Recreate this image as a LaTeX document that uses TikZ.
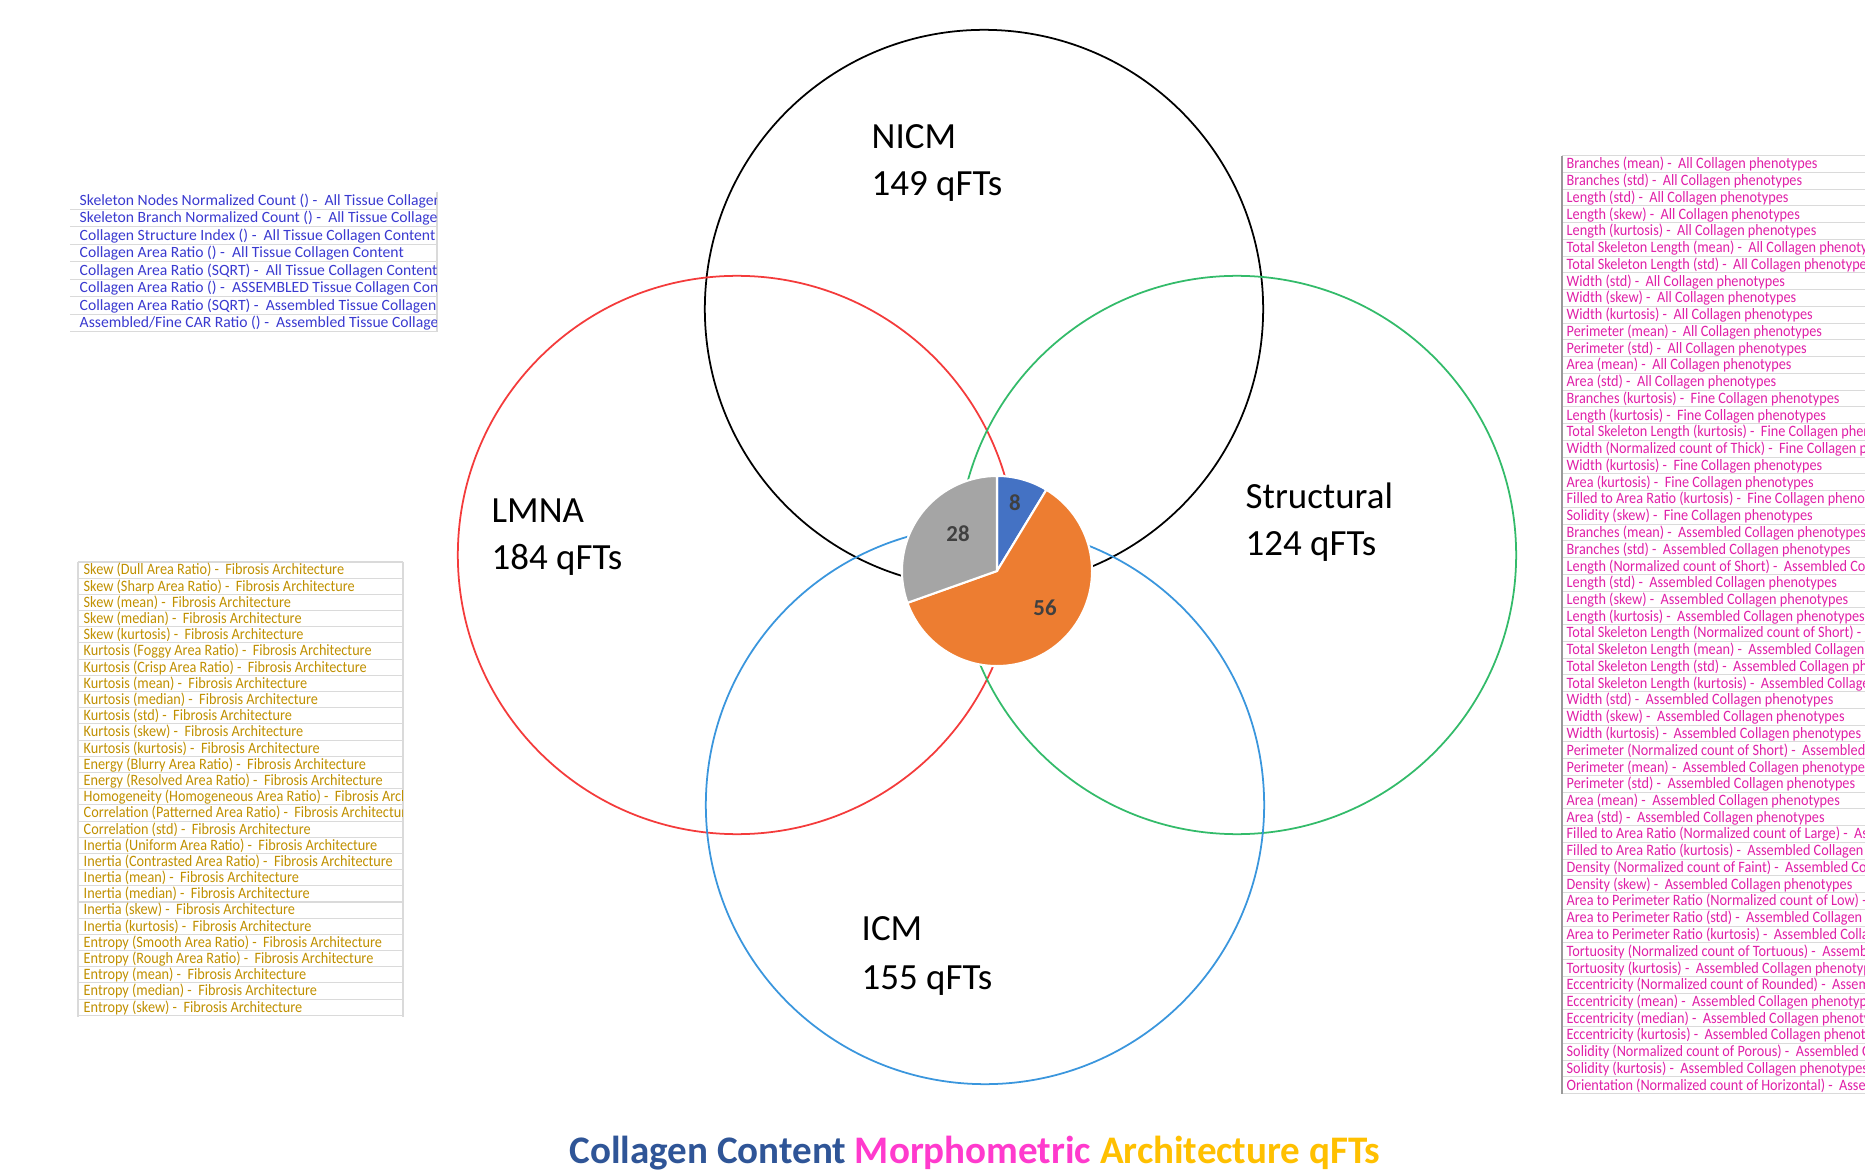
\documentclass[tikz,border=0pt]{standalone}
\usepackage{fontspec}
\setmainfont{Carlito}
\newfontfamily\listfont[FakeStretch=0.9]{Carlito}
\definecolor{cred}{HTML}{F43B3B}
\definecolor{cgreen}{HTML}{33BB6A}
\definecolor{cblue}{HTML}{3A96DD}
\definecolor{pieblue}{HTML}{4472C4}
\definecolor{pieorange}{HTML}{ED7D31}
\definecolor{piegray}{HTML}{A5A5A5}
\definecolor{listblue}{HTML}{3A3AD0}
\definecolor{listgold}{HTML}{C09000}
\definecolor{listpink}{HTML}{E020A8}
\definecolor{titleblue}{HTML}{2F5597}
\definecolor{titlepink}{HTML}{FF3ACD}
\definecolor{titlegold}{HTML}{FFC000}
\definecolor{grid}{HTML}{DADADA}
\tikzset{
  venn/.style={circle, draw, line width=0.5pt, inner sep=0pt, minimum size=5.58cm},
  vennlabel/.style={anchor=base west, inner sep=0pt, font=\fontsize{10.5}{12}\selectfont},
  pielabel/.style={inner sep=0pt, text=black!75, font=\fontsize{6.5}{8}\selectfont\bfseries},
  bluetext/.style={anchor=base west, inner sep=0pt, text=listblue, font=\fontsize{4.45}{5}\selectfont},
  goldtext/.style={anchor=base west, inner sep=0pt, text=listgold, font=\listfont\fontsize{4.5}{5}\selectfont},
  pinktext/.style={anchor=base west, inner sep=0pt, text=listpink, font=\listfont\fontsize{4.5}{5}\selectfont},
  gridline/.style={draw=grid, line width=0.3pt},
  slice/.style={draw=white, line width=0.6pt}
}
\begin{document}
\begin{tikzpicture}[x=0.01cm,y=-0.01cm]
\useasboundingbox (0,0) rectangle (1865,1170);
\fill[white] (0,0) rectangle (1865,1170);

% Venn circles
\node[venn, draw=black] (nicm) at (984,309) {};
\node[venn, draw=cred] (lmna) at (737,555) {};
\node[venn, draw=cgreen] (struct) at (1237,555) {};
\node[venn, draw=cblue] (icm) at (985,805) {};

% Venn labels
\node[vennlabel] (nicmA) at (871,149) {NICM};
\node[vennlabel] (nicmB) at (871,196) {149 qFTs};
\node[vennlabel] (lmnaA) at (491,523) {LMNA};
\node[vennlabel] (lmnaB) at (491,570) {184 qFTs};
\node[vennlabel] (structA) at (1245,509) {Structural};
\node[vennlabel] (structB) at (1245,556) {124 qFTs};
\node[vennlabel] (icmA) at (861,941) {ICM};
\node[vennlabel] (icmB) at (861,989) {155 qFTs};

% Pie chart
\coordinate (pc) at (997,571);
\filldraw[slice, fill=pieblue] (pc) -- ++(90:0.95cm) arc[start angle=90, end angle=58.70, radius=0.95cm] -- cycle;
\filldraw[slice, fill=pieorange] (pc) -- ++(58.70:0.95cm) arc[start angle=58.70, end angle=-160.43, radius=0.95cm] -- cycle;
\filldraw[slice, fill=piegray] (pc) -- ++(199.57:0.95cm) arc[start angle=199.57, end angle=90, radius=0.95cm] -- cycle;
\node[pielabel] (p8) at (1015,503) {8};
\node[pielabel] (p28) at (958,534) {28};
\node[pielabel] (p56) at (1045,608) {56};

% Blue list
\foreach \k in {1,...,8} \draw[gridline] (70,{191.8+17.5*\k}) -- (437,{191.8+17.5*\k});
\draw[gridline] (437,191.8) -- (437,332);
\begin{scope}
\clip (70,185) rectangle (436,335);
\foreach \t [count=\i] in {
Skeleton Nodes Normalized Count () -\ \ All Tissue Collagen Content,
Skeleton Branch Normalized Count () -\ \ All Tissue Collagen Content,
Collagen Structure Index () -\ \ All Tissue Collagen Content,
Collagen Area Ratio () -\ \ All Tissue Collagen Content,
Collagen Area Ratio (SQRT) -\ \ All Tissue Collagen Content,
Collagen Area Ratio () -\ \ ASSEMBLED Tissue Collagen Content,
Collagen Area Ratio (SQRT) -\ \ Assembled Tissue Collagen Content,
Assembled/Fine CAR Ratio () -\ \ Assembled Tissue Collagen Content}
  \node[bluetext] (b\i) at (79,{205.5+17.5*(\i-1)}) {\t};
\end{scope}

% Gold list
\foreach \k in {0,...,28} \draw[gridline] (78,{562+16.19*\k}) -- (403,{562+16.19*\k});
\draw[gridline] (78,562) -- (78,1017);
\draw[gridline] (403,562) -- (403,1017);
\begin{scope}
\clip (78,560) rectangle (402,1020);
\foreach \t [count=\i] in {
Skew (Dull Area Ratio) -\ \ Fibrosis Architecture,
Skew (Sharp Area Ratio) -\ \ Fibrosis Architecture,
Skew (mean) -\ \ Fibrosis Architecture,
Skew (median) -\ \ Fibrosis Architecture,
Skew (kurtosis) -\ \ Fibrosis Architecture,
Kurtosis (Foggy Area Ratio) -\ \ Fibrosis Architecture,
Kurtosis (Crisp Area Ratio) -\ \ Fibrosis Architecture,
Kurtosis (mean) -\ \ Fibrosis Architecture,
Kurtosis (median) -\ \ Fibrosis Architecture,
Kurtosis (std) -\ \ Fibrosis Architecture,
Kurtosis (skew) -\ \ Fibrosis Architecture,
Kurtosis (kurtosis) -\ \ Fibrosis Architecture,
Energy (Blurry Area Ratio) -\ \ Fibrosis Architecture,
Energy (Resolved Area Ratio) -\ \ Fibrosis Architecture,
Homogeneity (Homogeneous Area Ratio) -\ \ Fibrosis Architecture,
Correlation (Patterned Area Ratio) -\ \ Fibrosis Architecture,
Correlation (std) -\ \ Fibrosis Architecture,
Inertia (Uniform Area Ratio) -\ \ Fibrosis Architecture,
Inertia (Contrasted Area Ratio) -\ \ Fibrosis Architecture,
Inertia (mean) -\ \ Fibrosis Architecture,
Inertia (median) -\ \ Fibrosis Architecture,
Inertia (skew) -\ \ Fibrosis Architecture,
Inertia (kurtosis) -\ \ Fibrosis Architecture,
Entropy (Smooth Area Ratio) -\ \ Fibrosis Architecture,
Entropy (Rough Area Ratio) -\ \ Fibrosis Architecture,
Entropy (mean) -\ \ Fibrosis Architecture,
Entropy (median) -\ \ Fibrosis Architecture,
Entropy (skew) -\ \ Fibrosis Architecture}
  \node[goldtext] (g\i) at (83,{575+16.19*(\i-1)}) {\t};
\end{scope}

% Pink list
\foreach \k in {0,...,56} \draw[gridline] (1562,{155.6+16.75*\k}) -- (1865,{155.6+16.75*\k});
\draw[draw=black!40, line width=0.4pt] (1562,155.6) -- (1562,1093.6);
\begin{scope}
\clip (1563,150) rectangle (1865,1100);
\foreach \t [count=\i] in {
Branches (mean) -\ \ All Collagen phenotypes,
Branches (std) -\ \ All Collagen phenotypes,
Length (std) -\ \ All Collagen phenotypes,
Length (skew) -\ \ All Collagen phenotypes,
Length (kurtosis) -\ \ All Collagen phenotypes,
Total Skeleton Length (mean) -\ \ All Collagen phenotypes,
Total Skeleton Length (std) -\ \ All Collagen phenotypes,
Width (std) -\ \ All Collagen phenotypes,
Width (skew) -\ \ All Collagen phenotypes,
Width (kurtosis) -\ \ All Collagen phenotypes,
Perimeter (mean) -\ \ All Collagen phenotypes,
Perimeter (std) -\ \ All Collagen phenotypes,
Area (mean) -\ \ All Collagen phenotypes,
Area (std) -\ \ All Collagen phenotypes,
Branches (kurtosis) -\ \ Fine Collagen phenotypes,
Length (kurtosis) -\ \ Fine Collagen phenotypes,
Total Skeleton Length (kurtosis) -\ \ Fine Collagen phenotypes,
Width (Normalized count of Thick) -\ \ Fine Collagen phenotypes,
Width (kurtosis) -\ \ Fine Collagen phenotypes,
Area (kurtosis) -\ \ Fine Collagen phenotypes,
Filled to Area Ratio (kurtosis) -\ \ Fine Collagen phenotypes,
Solidity (skew) -\ \ Fine Collagen phenotypes,
Branches (mean) -\ \ Assembled Collagen phenotypes,
Branches (std) -\ \ Assembled Collagen phenotypes,
Length (Normalized count of Short) -\ \ Assembled Collagen phenotypes,
Length (std) -\ \ Assembled Collagen phenotypes,
Length (skew) -\ \ Assembled Collagen phenotypes,
Length (kurtosis) -\ \ Assembled Collagen phenotypes,
Total Skeleton Length (Normalized count of Short) -\ \ Assembled Collagen phenotypes,
Total Skeleton Length (mean) -\ \ Assembled Collagen phenotypes,
Total Skeleton Length (std) -\ \ Assembled Collagen phenotypes,
Total Skeleton Length (kurtosis) -\ \ Assembled Collagen phenotypes,
Width (std) -\ \ Assembled Collagen phenotypes,
Width (skew) -\ \ Assembled Collagen phenotypes,
Width (kurtosis) -\ \ Assembled Collagen phenotypes,
Perimeter (Normalized count of Short) -\ \ Assembled Collagen phenotypes,
Perimeter (mean) -\ \ Assembled Collagen phenotypes,
Perimeter (std) -\ \ Assembled Collagen phenotypes,
Area (mean) -\ \ Assembled Collagen phenotypes,
Area (std) -\ \ Assembled Collagen phenotypes,
Filled to Area Ratio (Normalized count of Large) -\ \ Assembled Collagen phenotypes,
Filled to Area Ratio (kurtosis) -\ \ Assembled Collagen phenotypes,
Density (Normalized count of Faint) -\ \ Assembled Collagen phenotypes,
Density (skew) -\ \ Assembled Collagen phenotypes,
Area to Perimeter Ratio (Normalized count of Low) -\ \ Assembled Collagen phenotypes,
Area to Perimeter Ratio (std) -\ \ Assembled Collagen phenotypes,
Area to Perimeter Ratio (kurtosis) -\ \ Assembled Collagen phenotypes,
Tortuosity (Normalized count of Tortuous) -\ \ Assembled Collagen phenotypes,
Tortuosity (kurtosis) -\ \ Assembled Collagen phenotypes,
Eccentricity (Normalized count of Rounded) -\ \ Assembled Collagen phenotypes,
Eccentricity (mean) -\ \ Assembled Collagen phenotypes,
Eccentricity (median) -\ \ Assembled Collagen phenotypes,
Eccentricity (kurtosis) -\ \ Assembled Collagen phenotypes,
Solidity (Normalized count of Porous) -\ \ Assembled Collagen phenotypes,
Solidity (kurtosis) -\ \ Assembled Collagen phenotypes,
Orientation (Normalized count of Horizontal) -\ \ Assembled Collagen phenotypes}
  \node[pinktext] (p\i) at (1566,{169+16.75*(\i-1)}) {\t};
\end{scope}

% Title
\node[anchor=base, inner sep=0pt, font=\fontsize{11.1}{13}\selectfont\bfseries] (title) at (975,1163)
  {\textcolor{titleblue}{Collagen Content} \textcolor{titlepink}{Morphometric} \textcolor{titlegold}{Architecture qFTs}};
\end{tikzpicture}
\end{document}
